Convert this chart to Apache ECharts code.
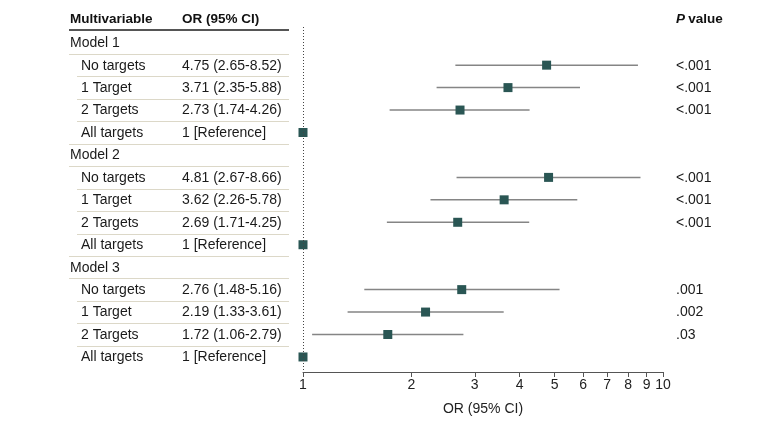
<!DOCTYPE html>
<html><head><meta charset="utf-8">
<script src="https://cdn.jsdelivr.net/npm/echarts@6/dist/echarts.min.js"></script>
<style>html,body{margin:0;padding:0;background:#fff}#c{width:780px;height:425px}</style>
</head><body><div id="c"></div>
<script>
// ---- data ----
const rowLabels = ["Model 1","No targets","1 Target","2 Targets","All targets",
                   "Model 2","No targets","1 Target","2 Targets","All targets",
                   "Model 3","No targets","1 Target","2 Targets","All targets"];
const rowIsHeader = [1,0,0,0,0, 1,0,0,0,0, 1,0,0,0,0];
const orText = ["","4.75 (2.65-8.52)","3.71 (2.35-5.88)","2.73 (1.74-4.26)","1 [Reference]",
                "","4.81 (2.67-8.66)","3.62 (2.26-5.78)","2.69 (1.71-4.25)","1 [Reference]",
                "","2.76 (1.48-5.16)","2.19 (1.33-3.61)","1.72 (1.06-2.79)","1 [Reference]"];
const orValue = [null,4.75,3.71,2.73,1, null,4.81,3.62,2.69,1, null,2.76,2.19,1.72,1];
const ciLow   = [null,2.65,2.35,1.74,null, null,2.67,2.26,1.71,null, null,1.48,1.33,1.06,null];
const ciHigh  = [null,8.52,5.88,4.26,null, null,8.66,5.78,4.25,null, null,5.16,3.61,2.79,null];
const pValues = ["","<.001","<.001","<.001","", "","<.001","<.001","<.001","", "",".001",".002",".03",""];
const xTicks = [1,2,3,4,5,6,7,8,9,10];

const FONT = "Liberation Sans, Arial, sans-serif";
const lg = v => Math.log10(v);

const pointData = [];
orValue.forEach((v,i)=>{ if(v!=null) pointData.push([lg(v), i]); });
const ciSeriesData = [];
ciLow.forEach((lo,i)=>{ if(lo!=null){ ciSeriesData.push([lg(lo), i],[lg(ciHigh[i]), i],'-'); } });

const chart = echarts.init(document.getElementById('c'), null, {renderer:'canvas'});
const option = {
  animation:false,
  grid:{left:303, right:117, top:27, bottom:53},
  xAxis:{type:'value', min:0, max:1, position:'bottom',
    axisLine:{show:true, onZero:false, lineStyle:{color:'#555', width:1}},
    axisTick:{show:true, customValues: xTicks.map(lg), length:5, lineStyle:{color:'#555'}},
    axisLabel:{show:true, customValues: xTicks.map(lg), color:'#222', fontSize:14, fontFamily:FONT, margin:6,
      formatter: v => String(Math.round(Math.pow(10,v)))},
    splitLine:{show:false},
    name:'OR (95% CI)', nameLocation:'middle', nameGap:30, nameTextStyle:{color:'#222', fontSize:14, fontFamily:FONT}
  },
  yAxis:{type:'value', inverse:true, min:-0.7, max:14.67, show:false},
  series:[
    {type:'line', data:ciSeriesData, connectNulls:false, symbol:'none', silent:true,
     lineStyle:{color:'#858585', width:1.5}, z:2},
    {type:'scatter', data:pointData, symbol:'rect', symbolSize:9, itemStyle:{color:'#2a5654', opacity:1}, z:3, silent:true},
    {type:'line', data:[], markLine:{silent:true, symbol:'none', label:{show:false},
      lineStyle:{color:'#444', type:[1,2], width:1},
      data:[[{coord:[0,-0.7]},{coord:[0,14.67]}]]}}
  ]
};
chart.setOption(option);

// table text
const g = [];
const yOf = i => chart.convertToPixel({gridIndex:0},[0,i])[1];
const headerY = yOf(-1) - 1;
const hs = {font:'bold 13.5px '+FONT, fill:'#111', verticalAlign:'middle'};
g.push({type:'text', x:70, y:headerY, style:Object.assign({text:'Multivariable'}, hs)});
g.push({type:'text', x:182, y:headerY, style:Object.assign({text:'OR (95% CI)'}, hs)});
g.push({type:'text', x:676, y:headerY, style:{verticalAlign:'middle', rich:{i:{fontStyle:'italic', fontWeight:'bold', fontSize:13.5, fontFamily:FONT, fill:'#111'}, b:{fontWeight:'bold', fontSize:13.5, fontFamily:FONT, fill:'#111'}}, text:'{i|P} {b|value}'}});
g.push({type:'line', shape:{x1:69, y1:30, x2:289, y2:30}, style:{stroke:'#555', lineWidth:2}});
const ts = {font:'14px '+FONT, fill:'#1a1a1a', verticalAlign:'middle'};
rowLabels.forEach((lab,i)=>{
  const y = yOf(i) + 0.5;
  g.push({type:'text', x: rowIsHeader[i]?70:81, y:y, style:Object.assign({text:lab}, ts)});
  if(orText[i]) g.push({type:'text', x:182, y:y, style:Object.assign({text:orText[i]}, ts)});
  if(pValues[i]) g.push({type:'text', x:676, y:y, style:Object.assign({text:pValues[i]}, ts)});
  if(i < rowLabels.length-1){
    const ys = Math.round(yOf(i+0.5))+0.5;
    const x1 = (rowIsHeader[i] || rowIsHeader[i+1]) ? 69 : 77;
    g.push({type:'line', shape:{x1:x1, y1:ys, x2:289, y2:ys}, style:{stroke:'#dcd8c8', lineWidth:1}});
  }
});
chart.setOption({graphic:g});
</script></body></html>
